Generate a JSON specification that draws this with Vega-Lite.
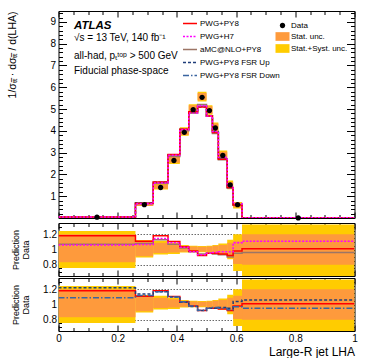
{
"$schema": "https://vega.github.io/schema/vega-lite/v6.json",
"padding": {"left": 6.5, "top": 10, "right": 0, "bottom": 0},
"spacing": 5,
"bounds": "flush",
"config": {
  "font": "Liberation Sans",
  "view": {"stroke": null},
  "axis": {"domain": false, "grid": false, "labelFont": "Liberation Sans", "labelFontSize": 10, "labelColor": "#000000", "tickColor": "#000000", "tickWidth": 1, "domainColor": "#000000", "domainWidth": 1, "titleFont": "Liberation Sans", "titleFontWeight": "normal", "titleColor": "#000000", "zindex": 1}
},
"datasets": {
  "main": [
    {"lo": 0, "hi": 0.26, "mid": 0.13, "data": 0.04, "stat_lo": 0.033, "stat_hi": 0.048, "tot_lo": 0.030, "tot_hi": 0.050, "pp8": 0.047, "h7": 0.042, "amc": 0.043, "up": 0.049, "dn": 0.044},
    {"lo": 0.26, "hi": 0.32, "mid": 0.29, "data": 0.61, "stat_lo": 0.555, "stat_hi": 0.671, "tot_lo": 0.546, "tot_hi": 0.686, "pp8": 0.677, "h7": 0.650, "amc": 0.659, "up": 0.695, "dn": 0.683},
    {"lo": 0.32, "hi": 0.37, "mid": 0.345, "data": 1.40, "stat_lo": 1.337, "stat_hi": 1.526, "tot_lo": 1.309, "tot_hi": 1.561, "pp8": 1.652, "h7": 1.603, "amc": 1.582, "up": 1.638, "dn": 1.638},
    {"lo": 0.37, "hi": 0.41, "mid": 0.39, "data": 2.64, "stat_lo": 2.534, "stat_hi": 2.825, "tot_lo": 2.482, "tot_hi": 2.878, "pp8": 2.917, "h7": 2.878, "amc": 2.825, "up": 2.904, "dn": 2.904},
    {"lo": 0.41, "hi": 0.44, "mid": 0.425, "data": 3.93, "stat_lo": 3.812, "stat_hi": 4.127, "tot_lo": 3.773, "tot_hi": 4.166, "pp8": 4.068, "h7": 4.048, "amc": 4.009, "up": 4.048, "dn": 4.068},
    {"lo": 0.44, "hi": 0.47, "mid": 0.455, "data": 4.97, "stat_lo": 4.846, "stat_hi": 5.169, "tot_lo": 4.796, "tot_hi": 5.219, "pp8": 4.871, "h7": 4.821, "amc": 4.821, "up": 4.846, "dn": 4.871},
    {"lo": 0.47, "hi": 0.50, "mid": 0.485, "data": 5.54, "stat_lo": 5.402, "stat_hi": 5.734, "tot_lo": 5.346, "tot_hi": 5.789, "pp8": 5.097, "h7": 5.152, "amc": 5.208, "up": 5.097, "dn": 5.125},
    {"lo": 0.50, "hi": 0.52, "mid": 0.51, "data": 4.93, "stat_lo": 4.782, "stat_hi": 5.127, "tot_lo": 4.733, "tot_hi": 5.177, "pp8": 4.684, "h7": 4.684, "amc": 4.684, "up": 4.684, "dn": 4.684},
    {"lo": 0.52, "hi": 0.54, "mid": 0.53, "data": 4.13, "stat_lo": 3.965, "stat_hi": 4.337, "tot_lo": 3.924, "tot_hi": 4.378, "pp8": 3.924, "h7": 3.965, "amc": 3.882, "up": 3.924, "dn": 3.965},
    {"lo": 0.54, "hi": 0.57, "mid": 0.555, "data": 2.87, "stat_lo": 2.727, "stat_hi": 3.042, "tot_lo": 2.669, "tot_hi": 3.100, "pp8": 2.698, "h7": 2.784, "amc": 2.669, "up": 2.755, "dn": 2.727},
    {"lo": 0.57, "hi": 0.59, "mid": 0.58, "data": 1.52, "stat_lo": 1.383, "stat_hi": 1.657, "tot_lo": 1.322, "tot_hi": 1.718, "pp8": 1.398, "h7": 1.474, "amc": 1.368, "up": 1.444, "dn": 1.414},
    {"lo": 0.59, "hi": 0.62, "mid": 0.605, "data": 0.61, "stat_lo": 0.494, "stat_hi": 0.680, "tot_lo": 0.436, "tot_hi": 0.732, "pp8": 0.598, "h7": 0.665, "amc": 0.580, "up": 0.634, "dn": 0.592},
    {"lo": 0.62, "hi": 1.0, "mid": 0.81, "data": 0.005, "stat_lo": 0.004, "stat_hi": 0.006, "tot_lo": 0.003, "tot_hi": 0.007, "pp8": 0.005, "h7": 0.006, "amc": 0.005, "up": 0.005, "dn": 0.005},
    {"lo": 1.0, "pp8": 0.005, "h7": 0.006, "amc": 0.005, "up": 0.005, "dn": 0.005}
  ],
  "ratio": [
    {"lo": 0, "hi": 0.26, "stat_lo": 0.83, "stat_hi": 1.20, "tot_lo": 0.755, "tot_hi": 1.245, "pp8": 1.18, "h7": 1.06, "amc": 1.07, "up": 1.22, "dn": 1.09},
    {"lo": 0.26, "hi": 0.32, "stat_lo": 0.91, "stat_hi": 1.10, "tot_lo": 0.895, "tot_hi": 1.125, "pp8": 1.11, "h7": 1.065, "amc": 1.08, "up": 1.14, "dn": 1.12},
    {"lo": 0.32, "hi": 0.37, "stat_lo": 0.955, "stat_hi": 1.09, "tot_lo": 0.935, "tot_hi": 1.115, "pp8": 1.18, "h7": 1.145, "amc": 1.13, "up": 1.17, "dn": 1.17},
    {"lo": 0.37, "hi": 0.41, "stat_lo": 0.96, "stat_hi": 1.07, "tot_lo": 0.94, "tot_hi": 1.09, "pp8": 1.105, "h7": 1.09, "amc": 1.07, "up": 1.10, "dn": 1.10},
    {"lo": 0.41, "hi": 0.44, "stat_lo": 0.97, "stat_hi": 1.05, "tot_lo": 0.96, "tot_hi": 1.06, "pp8": 1.035, "h7": 1.03, "amc": 1.02, "up": 1.03, "dn": 1.035},
    {"lo": 0.44, "hi": 0.47, "stat_lo": 0.975, "stat_hi": 1.04, "tot_lo": 0.965, "tot_hi": 1.05, "pp8": 0.98, "h7": 0.97, "amc": 0.97, "up": 0.975, "dn": 0.98},
    {"lo": 0.47, "hi": 0.50, "stat_lo": 0.975, "stat_hi": 1.035, "tot_lo": 0.965, "tot_hi": 1.045, "pp8": 0.92, "h7": 0.93, "amc": 0.94, "up": 0.92, "dn": 0.925},
    {"lo": 0.50, "hi": 0.52, "stat_lo": 0.97, "stat_hi": 1.04, "tot_lo": 0.96, "tot_hi": 1.05, "pp8": 0.95, "h7": 0.95, "amc": 0.95, "up": 0.95, "dn": 0.95},
    {"lo": 0.52, "hi": 0.54, "stat_lo": 0.96, "stat_hi": 1.05, "tot_lo": 0.95, "tot_hi": 1.06, "pp8": 0.95, "h7": 0.96, "amc": 0.94, "up": 0.95, "dn": 0.96},
    {"lo": 0.54, "hi": 0.57, "stat_lo": 0.95, "stat_hi": 1.06, "tot_lo": 0.93, "tot_hi": 1.08, "pp8": 0.94, "h7": 0.97, "amc": 0.93, "up": 0.96, "dn": 0.95},
    {"lo": 0.57, "hi": 0.59, "stat_lo": 0.91, "stat_hi": 1.09, "tot_lo": 0.87, "tot_hi": 1.13, "pp8": 0.92, "h7": 0.97, "amc": 0.90, "up": 0.95, "dn": 0.93},
    {"lo": 0.59, "hi": 0.62, "stat_lo": 0.81, "stat_hi": 1.115, "tot_lo": 0.715, "tot_hi": 1.20, "pp8": 0.98, "h7": 1.09, "amc": 0.95, "up": 1.04, "dn": 0.97},
    {"lo": 0.62, "hi": 1.0, "stat_lo": 0.80, "stat_hi": 1.20, "tot_lo": 0.62, "tot_hi": 1.33, "pp8": 1.01, "h7": 1.11, "amc": 0.96, "up": 1.06, "dn": 0.95},
    {"lo": 1.0, "pp8": 1.01, "h7": 1.11, "amc": 0.96, "up": 1.06, "dn": 0.95}
  ]
},
"vconcat": [
  {
    "width": 296, "height": 207,
    "data": {"name": "main"},
    "resolve": {"axis": {"x": "independent", "y": "independent"}},
    "layer": [
      {
        "transform": [{"filter": "isValid(datum.hi)"}],
        "mark": {"type": "rect", "clip": true},
        "encoding": {
          "x": {"field": "lo", "type": "quantitative", "scale": {"domain": [0, 1], "nice": false, "zero": false}, "axis": {"orient": "bottom", "domain": true, "values": [0, 0.2, 0.4, 0.6, 0.8, 1], "labels": false, "tickSize": -6, "title": null}},
          "x2": {"field": "hi"},
          "y": {"field": "tot_lo", "type": "quantitative", "scale": {"domain": [0, 9.5], "nice": false, "zero": false}, "axis": {"orient": "left", "domain": true, "values": [1, 2, 3, 4, 5, 6, 7, 8, 9], "tickSize": -8, "labelPadding": 11, "format": "d", "title": "1/σₜₜ\u0305 · dσₜₜ\u0305 / d(LHA)", "titleX": -46.5, "titleAnchor": "end", "titleBaseline": "middle", "titleFontSize": 10.5}},
          "y2": {"field": "tot_hi"},
          "fill": {"datum": "Stat.+Syst. unc.", "type": "nominal", "scale": {"domain": ["Data", "Stat. unc.", "Stat.+Syst. unc."], "range": ["#000000", "#fe9a3c", "#ffcc00"]}, "legend": {"title": null, "orient": "none", "legendX": 217, "legendY": 7.5, "direction": "vertical", "symbolSize": 196, "labelOffset": 1.5, "labelFontSize": 8, "rowPadding": 0, "symbolStrokeWidth": 0}}
        }
      },
      {
        "transform": [{"filter": "isValid(datum.hi)"}],
        "mark": {"type": "rect", "clip": true},
        "encoding": {
          "x": {"field": "lo", "type": "quantitative", "scale": {"domain": [0, 1], "nice": false, "zero": false}, "axis": {"orient": "bottom", "values": [0.05, 0.1, 0.15, 0.25, 0.3, 0.35, 0.45, 0.5, 0.55, 0.65, 0.7, 0.75, 0.85, 0.9, 0.95], "labels": false, "tickSize": -3.5, "title": null}},
          "x2": {"field": "hi"},
          "y": {"field": "stat_lo", "type": "quantitative", "scale": {"domain": [0, 9.5], "nice": false, "zero": false}, "axis": {"orient": "left", "values": [0.2, 0.4, 0.6, 0.8, 1.2, 1.4, 1.6, 1.8, 2.2, 2.4, 2.6, 2.8, 3.2, 3.4, 3.6, 3.8, 4.2, 4.4, 4.6, 4.8, 5.2, 5.4, 5.6, 5.8, 6.2, 6.4, 6.6, 6.8, 7.2, 7.4, 7.6, 7.8, 8.2, 8.4, 8.6, 8.8, 9.2, 9.4], "labels": false, "tickSize": -4, "title": null}},
          "y2": {"field": "stat_hi"},
          "fill": {"datum": "Stat. unc.", "type": "nominal", "scale": {"domain": ["Data", "Stat. unc.", "Stat.+Syst. unc."], "range": ["#000000", "#fe9a3c", "#ffcc00"]}, "legend": {"title": null, "orient": "none", "legendX": 217, "legendY": 7.5, "direction": "vertical", "symbolSize": 196, "labelOffset": 1.5, "labelFontSize": 8, "rowPadding": 0, "symbolStrokeWidth": 0}}
        }
      },
      {
        "transform": [{"fold": ["up", "dn", "amc"], "as": ["model", "val"]}],
        "mark": {"type": "line", "interpolate": "step-after", "strokeWidth": 1.5, "clip": true},
        "encoding": {
          "x": {"field": "lo", "type": "quantitative", "scale": {"domain": [0, 1], "nice": false, "zero": false}, "axis": {"orient": "top", "domain": true, "values": [0, 0.2, 0.4, 0.6, 0.8, 1], "labels": false, "tickSize": -6, "title": null}},
          "y": {"field": "val", "type": "quantitative", "scale": {"domain": [0, 9.5], "nice": false, "zero": false}, "axis": {"orient": "right", "domain": true, "values": [1, 2, 3, 4, 5, 6, 7, 8, 9], "labels": false, "tickSize": -8, "title": null}},
          "color": {"field": "model", "type": "nominal", "scale": {"domain": ["pp8", "h7", "amc", "up", "dn"], "range": ["#ff0000", "#ff00ff", "#9c7566", "#1f3d7a", "#3a64a0"]}, "legend": {"title": null, "orient": "none", "legendX": 123.5, "legendY": 4.5, "direction": "vertical", "symbolType": "stroke", "symbolSize": 196, "symbolStrokeWidth": 1.5, "labelOffset": 2, "labelFontSize": 8, "rowPadding": 1, "labelExpr": "datum.label == 'pp8' ? 'PWG+PY8' : datum.label == 'h7' ? 'PWG+H7' : datum.label == 'amc' ? 'aMC@NLO+PY8' : datum.label == 'up' ? 'PWG+PY8 FSR Up' : 'PWG+PY8 FSR Down'"}},
          "strokeDash": {"field": "model", "type": "nominal", "scale": {"domain": ["pp8", "h7", "amc", "up", "dn"], "range": [[1, 0], [2, 1.5], [1, 0], [3, 2], [6, 2, 1.5, 2]]}, "legend": {"title": null, "orient": "none", "legendX": 123.5, "legendY": 4.5, "direction": "vertical", "symbolType": "stroke", "symbolSize": 196, "symbolStrokeWidth": 1.5, "labelOffset": 2, "labelFontSize": 8, "rowPadding": 1, "labelExpr": "datum.label == 'pp8' ? 'PWG+PY8' : datum.label == 'h7' ? 'PWG+H7' : datum.label == 'amc' ? 'aMC@NLO+PY8' : datum.label == 'up' ? 'PWG+PY8 FSR Up' : 'PWG+PY8 FSR Down'"}}
        }
      },
      {
        "mark": {"type": "line", "interpolate": "step-after", "strokeWidth": 1.5, "clip": true},
        "encoding": {
          "x": {"field": "lo", "type": "quantitative", "scale": {"domain": [0, 1], "nice": false, "zero": false}, "axis": {"orient": "top", "values": [0.05, 0.1, 0.15, 0.25, 0.3, 0.35, 0.45, 0.5, 0.55, 0.65, 0.7, 0.75, 0.85, 0.9, 0.95], "labels": false, "tickSize": -3.5, "title": null}},
          "y": {"field": "pp8", "type": "quantitative", "scale": {"domain": [0, 9.5], "nice": false, "zero": false}, "axis": {"orient": "right", "values": [0.2, 0.4, 0.6, 0.8, 1.2, 1.4, 1.6, 1.8, 2.2, 2.4, 2.6, 2.8, 3.2, 3.4, 3.6, 3.8, 4.2, 4.4, 4.6, 4.8, 5.2, 5.4, 5.6, 5.8, 6.2, 6.4, 6.6, 6.8, 7.2, 7.4, 7.6, 7.8, 8.2, 8.4, 8.6, 8.8, 9.2, 9.4], "labels": false, "tickSize": -4, "title": null}},
          "color": {"datum": "pp8", "type": "nominal", "scale": {"domain": ["pp8", "h7", "amc", "up", "dn"], "range": ["#ff0000", "#ff00ff", "#9c7566", "#1f3d7a", "#3a64a0"]}, "legend": {"title": null, "orient": "none", "legendX": 123.5, "legendY": 4.5, "direction": "vertical", "symbolType": "stroke", "symbolSize": 196, "symbolStrokeWidth": 1.5, "labelOffset": 2, "labelFontSize": 8, "rowPadding": 1, "labelExpr": "datum.label == 'pp8' ? 'PWG+PY8' : datum.label == 'h7' ? 'PWG+H7' : datum.label == 'amc' ? 'aMC@NLO+PY8' : datum.label == 'up' ? 'PWG+PY8 FSR Up' : 'PWG+PY8 FSR Down'"}},
          "strokeDash": {"datum": "pp8", "type": "nominal", "scale": {"domain": ["pp8", "h7", "amc", "up", "dn"], "range": [[1, 0], [2, 1.5], [1, 0], [3, 2], [6, 2, 1.5, 2]]}, "legend": {"title": null, "orient": "none", "legendX": 123.5, "legendY": 4.5, "direction": "vertical", "symbolType": "stroke", "symbolSize": 196, "symbolStrokeWidth": 1.5, "labelOffset": 2, "labelFontSize": 8, "rowPadding": 1, "labelExpr": "datum.label == 'pp8' ? 'PWG+PY8' : datum.label == 'h7' ? 'PWG+H7' : datum.label == 'amc' ? 'aMC@NLO+PY8' : datum.label == 'up' ? 'PWG+PY8 FSR Up' : 'PWG+PY8 FSR Down'"}}
        }
      },
      {
        "mark": {"type": "line", "interpolate": "step-after", "strokeWidth": 1.5, "clip": true},
        "encoding": {
          "x": {"field": "lo", "type": "quantitative", "scale": {"domain": [0, 1], "nice": false, "zero": false}, "axis": null},
          "y": {"field": "h7", "type": "quantitative", "scale": {"domain": [0, 9.5], "nice": false, "zero": false}, "axis": null},
          "color": {"datum": "h7", "type": "nominal", "scale": {"domain": ["pp8", "h7", "amc", "up", "dn"], "range": ["#ff0000", "#ff00ff", "#9c7566", "#1f3d7a", "#3a64a0"]}, "legend": {"title": null, "orient": "none", "legendX": 123.5, "legendY": 4.5, "direction": "vertical", "symbolType": "stroke", "symbolSize": 196, "symbolStrokeWidth": 1.5, "labelOffset": 2, "labelFontSize": 8, "rowPadding": 1, "labelExpr": "datum.label == 'pp8' ? 'PWG+PY8' : datum.label == 'h7' ? 'PWG+H7' : datum.label == 'amc' ? 'aMC@NLO+PY8' : datum.label == 'up' ? 'PWG+PY8 FSR Up' : 'PWG+PY8 FSR Down'"}},
          "strokeDash": {"datum": "h7", "type": "nominal", "scale": {"domain": ["pp8", "h7", "amc", "up", "dn"], "range": [[1, 0], [2, 1.5], [1, 0], [3, 2], [6, 2, 1.5, 2]]}, "legend": {"title": null, "orient": "none", "legendX": 123.5, "legendY": 4.5, "direction": "vertical", "symbolType": "stroke", "symbolSize": 196, "symbolStrokeWidth": 1.5, "labelOffset": 2, "labelFontSize": 8, "rowPadding": 1, "labelExpr": "datum.label == 'pp8' ? 'PWG+PY8' : datum.label == 'h7' ? 'PWG+H7' : datum.label == 'amc' ? 'aMC@NLO+PY8' : datum.label == 'up' ? 'PWG+PY8 FSR Up' : 'PWG+PY8 FSR Down'"}}
        }
      },
      {
        "transform": [{"filter": "isValid(datum.hi)"}],
        "mark": {"type": "point", "filled": true, "opacity": 1, "size": 196},
        "encoding": {
          "x": {"field": "mid", "type": "quantitative", "scale": {"domain": [0, 1], "nice": false, "zero": false}, "axis": null},
          "y": {"field": "data", "type": "quantitative", "scale": {"domain": [0, 9.5], "nice": false, "zero": false}, "axis": null},
          "fill": {"datum": "Data", "type": "nominal", "scale": {"domain": ["Data", "Stat. unc.", "Stat.+Syst. unc."], "range": ["#000000", "#fe9a3c", "#ffcc00"]}, "legend": {"title": null, "orient": "none", "legendX": 217, "legendY": 7.5, "direction": "vertical", "symbolSize": 196, "labelOffset": 1.5, "labelFontSize": 8, "rowPadding": 0, "symbolStrokeWidth": 0}},
          "shape": {"datum": "Data", "type": "nominal", "scale": {"domain": ["Data", "Stat. unc.", "Stat.+Syst. unc."], "range": ["M-0.38,0A0.38,0.38,0,1,1,0.38,0A0.38,0.38,0,1,1,-0.38,0Z", "M-1,-0.62H1V0.62H-1Z", "M-1,-0.62H1V0.62H-1Z"]}, "legend": {"title": null, "orient": "none", "legendX": 217, "legendY": 7.5, "direction": "vertical", "symbolSize": 196, "labelOffset": 1.5, "labelFontSize": 8, "rowPadding": 0, "symbolStrokeWidth": 0}}
        }
      },
      {
        "data": {"values": [{}]},
        "mark": {"type": "text", "text": "ATLAS", "align": "left", "baseline": "alphabetic", "fontSize": 11.5, "fontWeight": "bold", "fontStyle": "italic", "font": "Liberation Sans"},
        "encoding": {
          "x": {"datum": 0.0524, "type": "quantitative", "scale": {"domain": [0, 1], "nice": false, "zero": false}, "axis": null},
          "y": {"datum": 8.69, "type": "quantitative", "scale": {"domain": [0, 9.5], "nice": false, "zero": false}, "axis": null}
        }
      },
      {
        "data": {"values": [{}]},
        "mark": {"type": "text", "text": "√s = 13 TeV, 140 fb⁻¹", "align": "left", "baseline": "alphabetic", "fontSize": 10, "font": "Liberation Sans"},
        "encoding": {
          "x": {"datum": 0.0524, "type": "quantitative", "scale": {"domain": [0, 1], "nice": false, "zero": false}, "axis": null},
          "y": {"datum": 8.12, "type": "quantitative", "scale": {"domain": [0, 9.5], "nice": false, "zero": false}, "axis": null}
        }
      },
      {
        "data": {"values": [{}]},
        "mark": {"type": "text", "text": "all-had, pₜᵗᵒᵖ > 500 GeV", "align": "left", "baseline": "alphabetic", "fontSize": 10, "font": "Liberation Sans"},
        "encoding": {
          "x": {"datum": 0.0524, "type": "quantitative", "scale": {"domain": [0, 1], "nice": false, "zero": false}, "axis": null},
          "y": {"datum": 7.3, "type": "quantitative", "scale": {"domain": [0, 9.5], "nice": false, "zero": false}, "axis": null}
        }
      },
      {
        "data": {"values": [{}]},
        "mark": {"type": "text", "text": "Fiducial phase-space", "align": "left", "baseline": "alphabetic", "fontSize": 10, "font": "Liberation Sans"},
        "encoding": {
          "x": {"datum": 0.0524, "type": "quantitative", "scale": {"domain": [0, 1], "nice": false, "zero": false}, "axis": null},
          "y": {"datum": 6.59, "type": "quantitative", "scale": {"domain": [0, 9.5], "nice": false, "zero": false}, "axis": null}
        }
      }
    ]
  },
  {
    "spacing": 2,
    "bounds": "flush",
    "vconcat": [
      {
        "width": 296, "height": 53,
        "data": {"name": "ratio"},
        "resolve": {"axis": {"x": "independent", "y": "independent"}},
        "layer": [
          {
            "transform": [{"filter": "isValid(datum.hi)"}],
            "mark": {"type": "rect", "clip": true},
            "encoding": {
              "x": {"field": "lo", "type": "quantitative", "scale": {"domain": [0, 1], "nice": false, "zero": false}, "axis": {"orient": "bottom", "domain": true, "values": [0, 0.2, 0.4, 0.6, 0.8, 1], "labels": false, "tickSize": -6, "title": null}},
              "x2": {"field": "hi"},
              "y": {"field": "tot_lo", "type": "quantitative", "scale": {"domain": [0.65, 1.35], "nice": false, "zero": false}, "axis": {"orient": "left", "domain": true, "values": [0.8, 1, 1.2], "tickSize": -6, "labelPadding": 8, "format": "~g", "title": ["Prediction", "Data"], "titleX": -43.5, "titleBaseline": "middle", "titleFontSize": 9, "titleLineHeight": 10}},
              "y2": {"field": "tot_hi"},
              "fill": {"datum": "Stat.+Syst. unc.", "type": "nominal", "scale": {"domain": ["Data", "Stat. unc.", "Stat.+Syst. unc."], "range": ["#000000", "#fe9a3c", "#ffcc00"]}, "legend": {"title": null, "orient": "none", "legendX": 217, "legendY": 7.5, "direction": "vertical", "symbolSize": 196, "labelOffset": 1.5, "labelFontSize": 8, "rowPadding": 0, "symbolStrokeWidth": 0}}
            }
          },
          {
            "transform": [{"filter": "isValid(datum.hi)"}],
            "mark": {"type": "rect", "clip": true},
            "encoding": {
              "x": {"field": "lo", "type": "quantitative", "scale": {"domain": [0, 1], "nice": false, "zero": false}, "axis": {"orient": "bottom", "values": [0.05, 0.1, 0.15, 0.25, 0.3, 0.35, 0.45, 0.5, 0.55, 0.65, 0.7, 0.75, 0.85, 0.9, 0.95], "labels": false, "tickSize": -3.5, "title": null}},
              "x2": {"field": "hi"},
              "y": {"field": "stat_lo", "type": "quantitative", "scale": {"domain": [0.65, 1.35], "nice": false, "zero": false}, "axis": {"orient": "left", "values": [0.7, 0.75, 0.85, 0.9, 0.95, 1.05, 1.1, 1.15, 1.25, 1.3], "labels": false, "tickSize": -3, "title": null}},
              "y2": {"field": "stat_hi"},
              "fill": {"datum": "Stat. unc.", "type": "nominal", "scale": {"domain": ["Data", "Stat. unc.", "Stat.+Syst. unc."], "range": ["#000000", "#fe9a3c", "#ffcc00"]}, "legend": {"title": null, "orient": "none", "legendX": 217, "legendY": 7.5, "direction": "vertical", "symbolSize": 196, "labelOffset": 1.5, "labelFontSize": 8, "rowPadding": 0, "symbolStrokeWidth": 0}}
            }
          },
          {
            "mark": {"type": "line", "interpolate": "step-after", "strokeWidth": 1.5, "clip": true},
            "encoding": {
              "x": {"field": "lo", "type": "quantitative", "scale": {"domain": [0, 1], "nice": false, "zero": false}, "axis": {"orient": "top", "domain": true, "values": [0, 0.2, 0.4, 0.6, 0.8, 1], "labels": false, "tickSize": -6, "title": null}},
              "y": {"field": "amc", "type": "quantitative", "scale": {"domain": [0.65, 1.35], "nice": false, "zero": false}, "axis": {"orient": "right", "domain": true, "values": [0.8, 1, 1.2], "labels": false, "tickSize": -6, "title": null, "grid": true, "gridDash": [1.5, 1.5], "gridColor": "#444444", "gridWidth": 0.8, "gridOpacity": {"condition": {"test": "datum.value == 1", "value": 0}, "value": 1}}},
              "color": {"datum": "amc", "type": "nominal", "scale": {"domain": ["pp8", "h7", "amc", "up", "dn"], "range": ["#ff0000", "#ff00ff", "#9c7566", "#1f3d7a", "#3a64a0"]}, "legend": {"title": null, "orient": "none", "legendX": 123.5, "legendY": 4.5, "direction": "vertical", "symbolType": "stroke", "symbolSize": 196, "symbolStrokeWidth": 1.5, "labelOffset": 2, "labelFontSize": 8, "rowPadding": 1, "labelExpr": "datum.label == 'pp8' ? 'PWG+PY8' : datum.label == 'h7' ? 'PWG+H7' : datum.label == 'amc' ? 'aMC@NLO+PY8' : datum.label == 'up' ? 'PWG+PY8 FSR Up' : 'PWG+PY8 FSR Down'"}},
              "strokeDash": {"datum": "amc", "type": "nominal", "scale": {"domain": ["pp8", "h7", "amc", "up", "dn"], "range": [[1, 0], [2, 1.5], [1, 0], [3, 2], [6, 2, 1.5, 2]]}, "legend": {"title": null, "orient": "none", "legendX": 123.5, "legendY": 4.5, "direction": "vertical", "symbolType": "stroke", "symbolSize": 196, "symbolStrokeWidth": 1.5, "labelOffset": 2, "labelFontSize": 8, "rowPadding": 1, "labelExpr": "datum.label == 'pp8' ? 'PWG+PY8' : datum.label == 'h7' ? 'PWG+H7' : datum.label == 'amc' ? 'aMC@NLO+PY8' : datum.label == 'up' ? 'PWG+PY8 FSR Up' : 'PWG+PY8 FSR Down'"}}
            }
          },
          {
            "transform": [{"fold": ["pp8", "h7"], "as": ["model", "val"]}],
            "mark": {"type": "line", "interpolate": "step-after", "strokeWidth": 1.5, "clip": true},
            "encoding": {
              "x": {"field": "lo", "type": "quantitative", "scale": {"domain": [0, 1], "nice": false, "zero": false}, "axis": {"orient": "top", "values": [0.05, 0.1, 0.15, 0.25, 0.3, 0.35, 0.45, 0.5, 0.55, 0.65, 0.7, 0.75, 0.85, 0.9, 0.95], "labels": false, "tickSize": -3.5, "title": null}},
              "y": {"field": "val", "type": "quantitative", "scale": {"domain": [0.65, 1.35], "nice": false, "zero": false}, "axis": {"orient": "right", "values": [0.7, 0.75, 0.85, 0.9, 0.95, 1.05, 1.1, 1.15, 1.25, 1.3], "labels": false, "tickSize": -3, "title": null}},
              "color": {"field": "model", "type": "nominal", "scale": {"domain": ["pp8", "h7", "amc", "up", "dn"], "range": ["#ff0000", "#ff00ff", "#9c7566", "#1f3d7a", "#3a64a0"]}, "legend": {"title": null, "orient": "none", "legendX": 123.5, "legendY": 4.5, "direction": "vertical", "symbolType": "stroke", "symbolSize": 196, "symbolStrokeWidth": 1.5, "labelOffset": 2, "labelFontSize": 8, "rowPadding": 1, "labelExpr": "datum.label == 'pp8' ? 'PWG+PY8' : datum.label == 'h7' ? 'PWG+H7' : datum.label == 'amc' ? 'aMC@NLO+PY8' : datum.label == 'up' ? 'PWG+PY8 FSR Up' : 'PWG+PY8 FSR Down'"}},
              "strokeDash": {"field": "model", "type": "nominal", "scale": {"domain": ["pp8", "h7", "amc", "up", "dn"], "range": [[1, 0], [2, 1.5], [1, 0], [3, 2], [6, 2, 1.5, 2]]}, "legend": {"title": null, "orient": "none", "legendX": 123.5, "legendY": 4.5, "direction": "vertical", "symbolType": "stroke", "symbolSize": 196, "symbolStrokeWidth": 1.5, "labelOffset": 2, "labelFontSize": 8, "rowPadding": 1, "labelExpr": "datum.label == 'pp8' ? 'PWG+PY8' : datum.label == 'h7' ? 'PWG+H7' : datum.label == 'amc' ? 'aMC@NLO+PY8' : datum.label == 'up' ? 'PWG+PY8 FSR Up' : 'PWG+PY8 FSR Down'"}}
            }
          }
        ]
      },
      {
        "width": 296, "height": 53,
        "data": {"name": "ratio"},
        "resolve": {"axis": {"x": "independent", "y": "independent"}},
        "layer": [
          {
            "transform": [{"filter": "isValid(datum.hi)"}],
            "mark": {"type": "rect", "clip": true},
            "encoding": {
              "x": {"field": "lo", "type": "quantitative", "scale": {"domain": [0, 1], "nice": false, "zero": false}, "axis": {"orient": "bottom", "domain": true, "values": [0, 0.2, 0.4, 0.6, 0.8, 1], "tickSize": -6, "labelPadding": 8, "format": "~g", "labelFlush": false, "title": "Large-R jet LHA", "titleAnchor": "end", "titleFontSize": 12, "titleBaseline": "alphabetic", "titleY": 24.5}},
              "x2": {"field": "hi"},
              "y": {"field": "tot_lo", "type": "quantitative", "scale": {"domain": [0.65, 1.35], "nice": false, "zero": false}, "axis": {"orient": "left", "domain": true, "values": [0.8, 1, 1.2], "tickSize": -6, "labelPadding": 8, "format": "~g", "title": ["Prediction", "Data"], "titleX": -43.5, "titleBaseline": "middle", "titleFontSize": 9, "titleLineHeight": 10}},
              "y2": {"field": "tot_hi"},
              "fill": {"datum": "Stat.+Syst. unc.", "type": "nominal", "scale": {"domain": ["Data", "Stat. unc.", "Stat.+Syst. unc."], "range": ["#000000", "#fe9a3c", "#ffcc00"]}, "legend": {"title": null, "orient": "none", "legendX": 217, "legendY": 7.5, "direction": "vertical", "symbolSize": 196, "labelOffset": 1.5, "labelFontSize": 8, "rowPadding": 0, "symbolStrokeWidth": 0}}
            }
          },
          {
            "transform": [{"filter": "isValid(datum.hi)"}],
            "mark": {"type": "rect", "clip": true},
            "encoding": {
              "x": {"field": "lo", "type": "quantitative", "scale": {"domain": [0, 1], "nice": false, "zero": false}, "axis": {"orient": "bottom", "values": [0.05, 0.1, 0.15, 0.25, 0.3, 0.35, 0.45, 0.5, 0.55, 0.65, 0.7, 0.75, 0.85, 0.9, 0.95], "labels": false, "tickSize": -3.5, "title": null}},
              "x2": {"field": "hi"},
              "y": {"field": "stat_lo", "type": "quantitative", "scale": {"domain": [0.65, 1.35], "nice": false, "zero": false}, "axis": {"orient": "left", "values": [0.7, 0.75, 0.85, 0.9, 0.95, 1.05, 1.1, 1.15, 1.25, 1.3], "labels": false, "tickSize": -3, "title": null}},
              "y2": {"field": "stat_hi"},
              "fill": {"datum": "Stat. unc.", "type": "nominal", "scale": {"domain": ["Data", "Stat. unc.", "Stat.+Syst. unc."], "range": ["#000000", "#fe9a3c", "#ffcc00"]}, "legend": {"title": null, "orient": "none", "legendX": 217, "legendY": 7.5, "direction": "vertical", "symbolSize": 196, "labelOffset": 1.5, "labelFontSize": 8, "rowPadding": 0, "symbolStrokeWidth": 0}}
            }
          },
          {
            "mark": {"type": "line", "interpolate": "step-after", "strokeWidth": 1.5, "clip": true},
            "encoding": {
              "x": {"field": "lo", "type": "quantitative", "scale": {"domain": [0, 1], "nice": false, "zero": false}, "axis": {"orient": "top", "domain": true, "values": [0, 0.2, 0.4, 0.6, 0.8, 1], "labels": false, "tickSize": -6, "title": null}},
              "y": {"field": "pp8", "type": "quantitative", "scale": {"domain": [0.65, 1.35], "nice": false, "zero": false}, "axis": {"orient": "right", "domain": true, "values": [0.8, 1, 1.2], "labels": false, "tickSize": -6, "title": null, "grid": true, "gridDash": [1.5, 1.5], "gridColor": "#444444", "gridWidth": 0.8, "gridOpacity": {"condition": {"test": "datum.value == 1", "value": 0}, "value": 1}}},
              "color": {"datum": "pp8", "type": "nominal", "scale": {"domain": ["pp8", "h7", "amc", "up", "dn"], "range": ["#ff0000", "#ff00ff", "#9c7566", "#1f3d7a", "#3a64a0"]}, "legend": {"title": null, "orient": "none", "legendX": 123.5, "legendY": 4.5, "direction": "vertical", "symbolType": "stroke", "symbolSize": 196, "symbolStrokeWidth": 1.5, "labelOffset": 2, "labelFontSize": 8, "rowPadding": 1, "labelExpr": "datum.label == 'pp8' ? 'PWG+PY8' : datum.label == 'h7' ? 'PWG+H7' : datum.label == 'amc' ? 'aMC@NLO+PY8' : datum.label == 'up' ? 'PWG+PY8 FSR Up' : 'PWG+PY8 FSR Down'"}},
              "strokeDash": {"datum": "pp8", "type": "nominal", "scale": {"domain": ["pp8", "h7", "amc", "up", "dn"], "range": [[1, 0], [2, 1.5], [1, 0], [3, 2], [6, 2, 1.5, 2]]}, "legend": {"title": null, "orient": "none", "legendX": 123.5, "legendY": 4.5, "direction": "vertical", "symbolType": "stroke", "symbolSize": 196, "symbolStrokeWidth": 1.5, "labelOffset": 2, "labelFontSize": 8, "rowPadding": 1, "labelExpr": "datum.label == 'pp8' ? 'PWG+PY8' : datum.label == 'h7' ? 'PWG+H7' : datum.label == 'amc' ? 'aMC@NLO+PY8' : datum.label == 'up' ? 'PWG+PY8 FSR Up' : 'PWG+PY8 FSR Down'"}}
            }
          },
          {
            "transform": [{"fold": ["up", "dn"], "as": ["model", "val"]}],
            "mark": {"type": "line", "interpolate": "step-after", "strokeWidth": 1.5, "clip": true},
            "encoding": {
              "x": {"field": "lo", "type": "quantitative", "scale": {"domain": [0, 1], "nice": false, "zero": false}, "axis": {"orient": "top", "values": [0.05, 0.1, 0.15, 0.25, 0.3, 0.35, 0.45, 0.5, 0.55, 0.65, 0.7, 0.75, 0.85, 0.9, 0.95], "labels": false, "tickSize": -3.5, "title": null}},
              "y": {"field": "val", "type": "quantitative", "scale": {"domain": [0.65, 1.35], "nice": false, "zero": false}, "axis": {"orient": "right", "values": [0.7, 0.75, 0.85, 0.9, 0.95, 1.05, 1.1, 1.15, 1.25, 1.3], "labels": false, "tickSize": -3, "title": null}},
              "color": {"field": "model", "type": "nominal", "scale": {"domain": ["pp8", "h7", "amc", "up", "dn"], "range": ["#ff0000", "#ff00ff", "#9c7566", "#1f3d7a", "#3a64a0"]}, "legend": {"title": null, "orient": "none", "legendX": 123.5, "legendY": 4.5, "direction": "vertical", "symbolType": "stroke", "symbolSize": 196, "symbolStrokeWidth": 1.5, "labelOffset": 2, "labelFontSize": 8, "rowPadding": 1, "labelExpr": "datum.label == 'pp8' ? 'PWG+PY8' : datum.label == 'h7' ? 'PWG+H7' : datum.label == 'amc' ? 'aMC@NLO+PY8' : datum.label == 'up' ? 'PWG+PY8 FSR Up' : 'PWG+PY8 FSR Down'"}},
              "strokeDash": {"field": "model", "type": "nominal", "scale": {"domain": ["pp8", "h7", "amc", "up", "dn"], "range": [[1, 0], [2, 1.5], [1, 0], [3, 2], [6, 2, 1.5, 2]]}, "legend": {"title": null, "orient": "none", "legendX": 123.5, "legendY": 4.5, "direction": "vertical", "symbolType": "stroke", "symbolSize": 196, "symbolStrokeWidth": 1.5, "labelOffset": 2, "labelFontSize": 8, "rowPadding": 1, "labelExpr": "datum.label == 'pp8' ? 'PWG+PY8' : datum.label == 'h7' ? 'PWG+H7' : datum.label == 'amc' ? 'aMC@NLO+PY8' : datum.label == 'up' ? 'PWG+PY8 FSR Up' : 'PWG+PY8 FSR Down'"}}
            }
          }
        ]
      }
    ]
  }
]
}
